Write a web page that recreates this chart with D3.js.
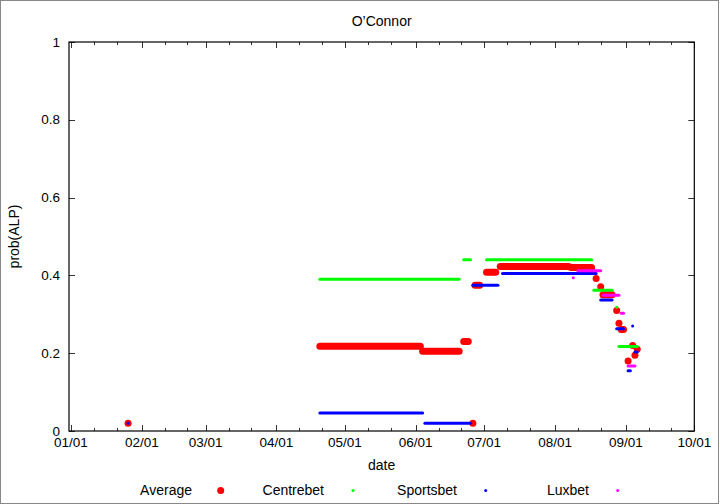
<!DOCTYPE html>
<html>
<head>
<meta charset="utf-8">
<script src="https://cdn.jsdelivr.net/npm/d3@7"></script>
<style>
  html, body { margin: 0; padding: 0; background: #fff; }
  svg text { font-family: "Liberation Sans", Arial, Helvetica, sans-serif; font-size: 14px; fill: #000; }
  svg text.tick { font-size: 13.5px; }
</style>
</head>
<body>
<svg id="chart" width="720" height="504"></svg>
<script>
// ---- data: runs of constant value [startDate, endDate, value] ----
const average = [
  ["2013-01-26", "2013-01-26", 0.020],
  ["2013-04-20", "2013-06-03", 0.218],
  ["2013-06-04", "2013-06-20", 0.205],
  ["2013-06-22", "2013-06-24", 0.230],
  ["2013-06-26", "2013-06-26", 0.020],
  ["2013-06-27", "2013-06-29", 0.375],
  ["2013-07-02", "2013-07-06", 0.408],
  ["2013-07-08", "2013-08-07", 0.423],
  ["2013-08-08", "2013-08-17", 0.420],
  ["2013-08-19", "2013-08-19", 0.392],
  ["2013-08-21", "2013-08-21", 0.371],
  ["2013-08-22", "2013-08-26", 0.350],
  ["2013-08-28", "2013-08-28", 0.310],
  ["2013-08-29", "2013-08-29", 0.277],
  ["2013-08-30", "2013-08-31", 0.261],
  ["2013-09-02", "2013-09-02", 0.180],
  ["2013-09-04", "2013-09-04", 0.220],
  ["2013-09-05", "2013-09-05", 0.195],
  ["2013-09-06", "2013-09-06", 0.210]
];
const centrebet = [
  ["2013-04-20", "2013-06-20", 0.390],
  ["2013-06-22", "2013-06-25", 0.440],
  ["2013-07-02", "2013-08-17", 0.440],
  ["2013-08-18", "2013-08-26", 0.362],
  ["2013-08-28", "2013-08-28", 0.318],
  ["2013-08-29", "2013-09-06", 0.217]
];
const sportsbet = [
  ["2013-01-26", "2013-01-26", 0.020],
  ["2013-04-20", "2013-06-04", 0.046],
  ["2013-06-05", "2013-06-25", 0.020],
  ["2013-06-26", "2013-07-07", 0.375],
  ["2013-07-09", "2013-08-19", 0.405],
  ["2013-08-21", "2013-08-26", 0.337],
  ["2013-08-28", "2013-08-31", 0.263],
  ["2013-09-02", "2013-09-03", 0.155],
  ["2013-09-04", "2013-09-04", 0.270],
  ["2013-09-05", "2013-09-06", 0.203]
];
const luxbet = [
  ["2013-08-09", "2013-08-09", 0.394],
  ["2013-08-11", "2013-08-21", 0.412],
  ["2013-08-22", "2013-08-29", 0.349],
  ["2013-08-30", "2013-08-31", 0.303],
  ["2013-09-02", "2013-09-05", 0.167]
];
const seriesNames = ["Average", "Centrebet", "Sportsbet", "Luxbet"];
const seriesColors = ["#ff0000", "#00ff00", "#0000ff", "#ff00ff"];
const seriesData = [average, centrebet, sportsbet, luxbet];
const yTickValues = [0, 0.2, 0.4, 0.6, 0.8, 1];
const majorTickDates = ["2013-01-01","2013-02-01","2013-03-01","2013-04-01","2013-05-01",
  "2013-06-01","2013-07-01","2013-08-01","2013-09-01","2013-10-01"];
const titleText = "O\u2019Connor";
const xLabelText = "date";
const yLabelText = "prob(ALP)";

// ---- layout ----
const parse = d3.utcParse("%Y-%m-%d");
const L = 69, R = 694.3, T = 42, B = 431;
const x = d3.scaleUtc()
  .domain([new Date(Date.UTC(2012, 11, 31, 3)), new Date(Date.UTC(2013, 9, 1))])
  .range([L, R]);
const y = d3.scaleLinear().domain([0, 1]).range([B, T]);

const svg = d3.select("#chart");
svg.append("rect").attr("x", 0).attr("y", 0).attr("width", 720).attr("height", 504).attr("fill", "#fff");
svg.append("rect").attr("x", 0.5).attr("y", 0.5).attr("width", 718).attr("height", 503)
  .attr("fill", "none").attr("stroke", "#888").attr("stroke-width", 1);

// ticks
const majors = majorTickDates.map(parse);
const minors = [];
for (let i = 0; i < majors.length - 1; i++) {
  [10, 20].forEach(k => minors.push(d3.utcDay.offset(majors[i], k)));
}
const tg = svg.append("g").attr("stroke", "#333").attr("stroke-width", 1);
majors.forEach(d => {
  const px = Math.round(x(d)) + 0.5;
  tg.append("line").attr("x1", px).attr("x2", px).attr("y1", B).attr("y2", B - 6);
  tg.append("line").attr("x1", px).attr("x2", px).attr("y1", T).attr("y2", T + 6);
});
minors.forEach(d => {
  const px = Math.round(x(d)) + 0.5;
  tg.append("line").attr("x1", px).attr("x2", px).attr("y1", B).attr("y2", B - 3);
  tg.append("line").attr("x1", px).attr("x2", px).attr("y1", T).attr("y2", T + 3);
});
yTickValues.forEach(v => {
  const py = Math.round(y(v)) + 0.5;
  tg.append("line").attr("x1", L).attr("x2", L + 6).attr("y1", py).attr("y2", py);
  tg.append("line").attr("x1", R).attr("x2", R - 6).attr("y1", py).attr("y2", py);
});

// tick labels
const fmt = d3.utcFormat("%m/%d");
majors.forEach(d => {
  svg.append("text").attr("class", "tick").attr("x", x(d)).attr("y", 447)
    .attr("text-anchor", "middle").text(fmt(d));
});
yTickValues.forEach(v => {
  svg.append("text").attr("class", "tick").attr("x", 60).attr("y", y(v) + 4.5)
    .attr("text-anchor", "end").text(d3.format("")(v));
});

// series
seriesData.forEach((runs, i) => {
  const w = i === 0 ? 7 : 3;
  const g = svg.append("g").attr("stroke", seriesColors[i]).attr("stroke-width", w)
    .attr("stroke-linecap", "round");
  runs.forEach(r => {
    g.append("line")
      .attr("x1", x(parse(r[0]))).attr("x2", x(parse(r[1])))
      .attr("y1", y(r[2])).attr("y2", y(r[2]));
  });
});

// frame
svg.append("rect").attr("x", L).attr("y", T).attr("width", R - L).attr("height", B - T)
  .attr("fill", "none").attr("stroke", "#000").attr("stroke-width", 1.2);

// labels
svg.append("text").attr("x", (L + R) / 2).attr("y", 26).attr("text-anchor", "middle").text(titleText);
svg.append("text").attr("x", (L + R) / 2).attr("y", 470).attr("text-anchor", "middle").text(xLabelText);
svg.append("text").attr("transform", `translate(19,${(T + B) / 2}) rotate(-90)`)
  .attr("text-anchor", "middle").text(yLabelText);

// legend
const legTextRight = [192, 324, 457, 589];
const legDotX = [220.7, 353, 485.7, 617.7];
seriesNames.forEach((n, i) => {
  svg.append("text").attr("x", legTextRight[i]).attr("y", 495).attr("text-anchor", "end").text(n);
  svg.append("line").attr("x1", legDotX[i]).attr("x2", legDotX[i]).attr("y1", 490.5).attr("y2", 490.5)
    .attr("stroke", seriesColors[i]).attr("stroke-width", i === 0 ? 7 : 3).attr("stroke-linecap", "round");
});
</script>
</body>
</html>
